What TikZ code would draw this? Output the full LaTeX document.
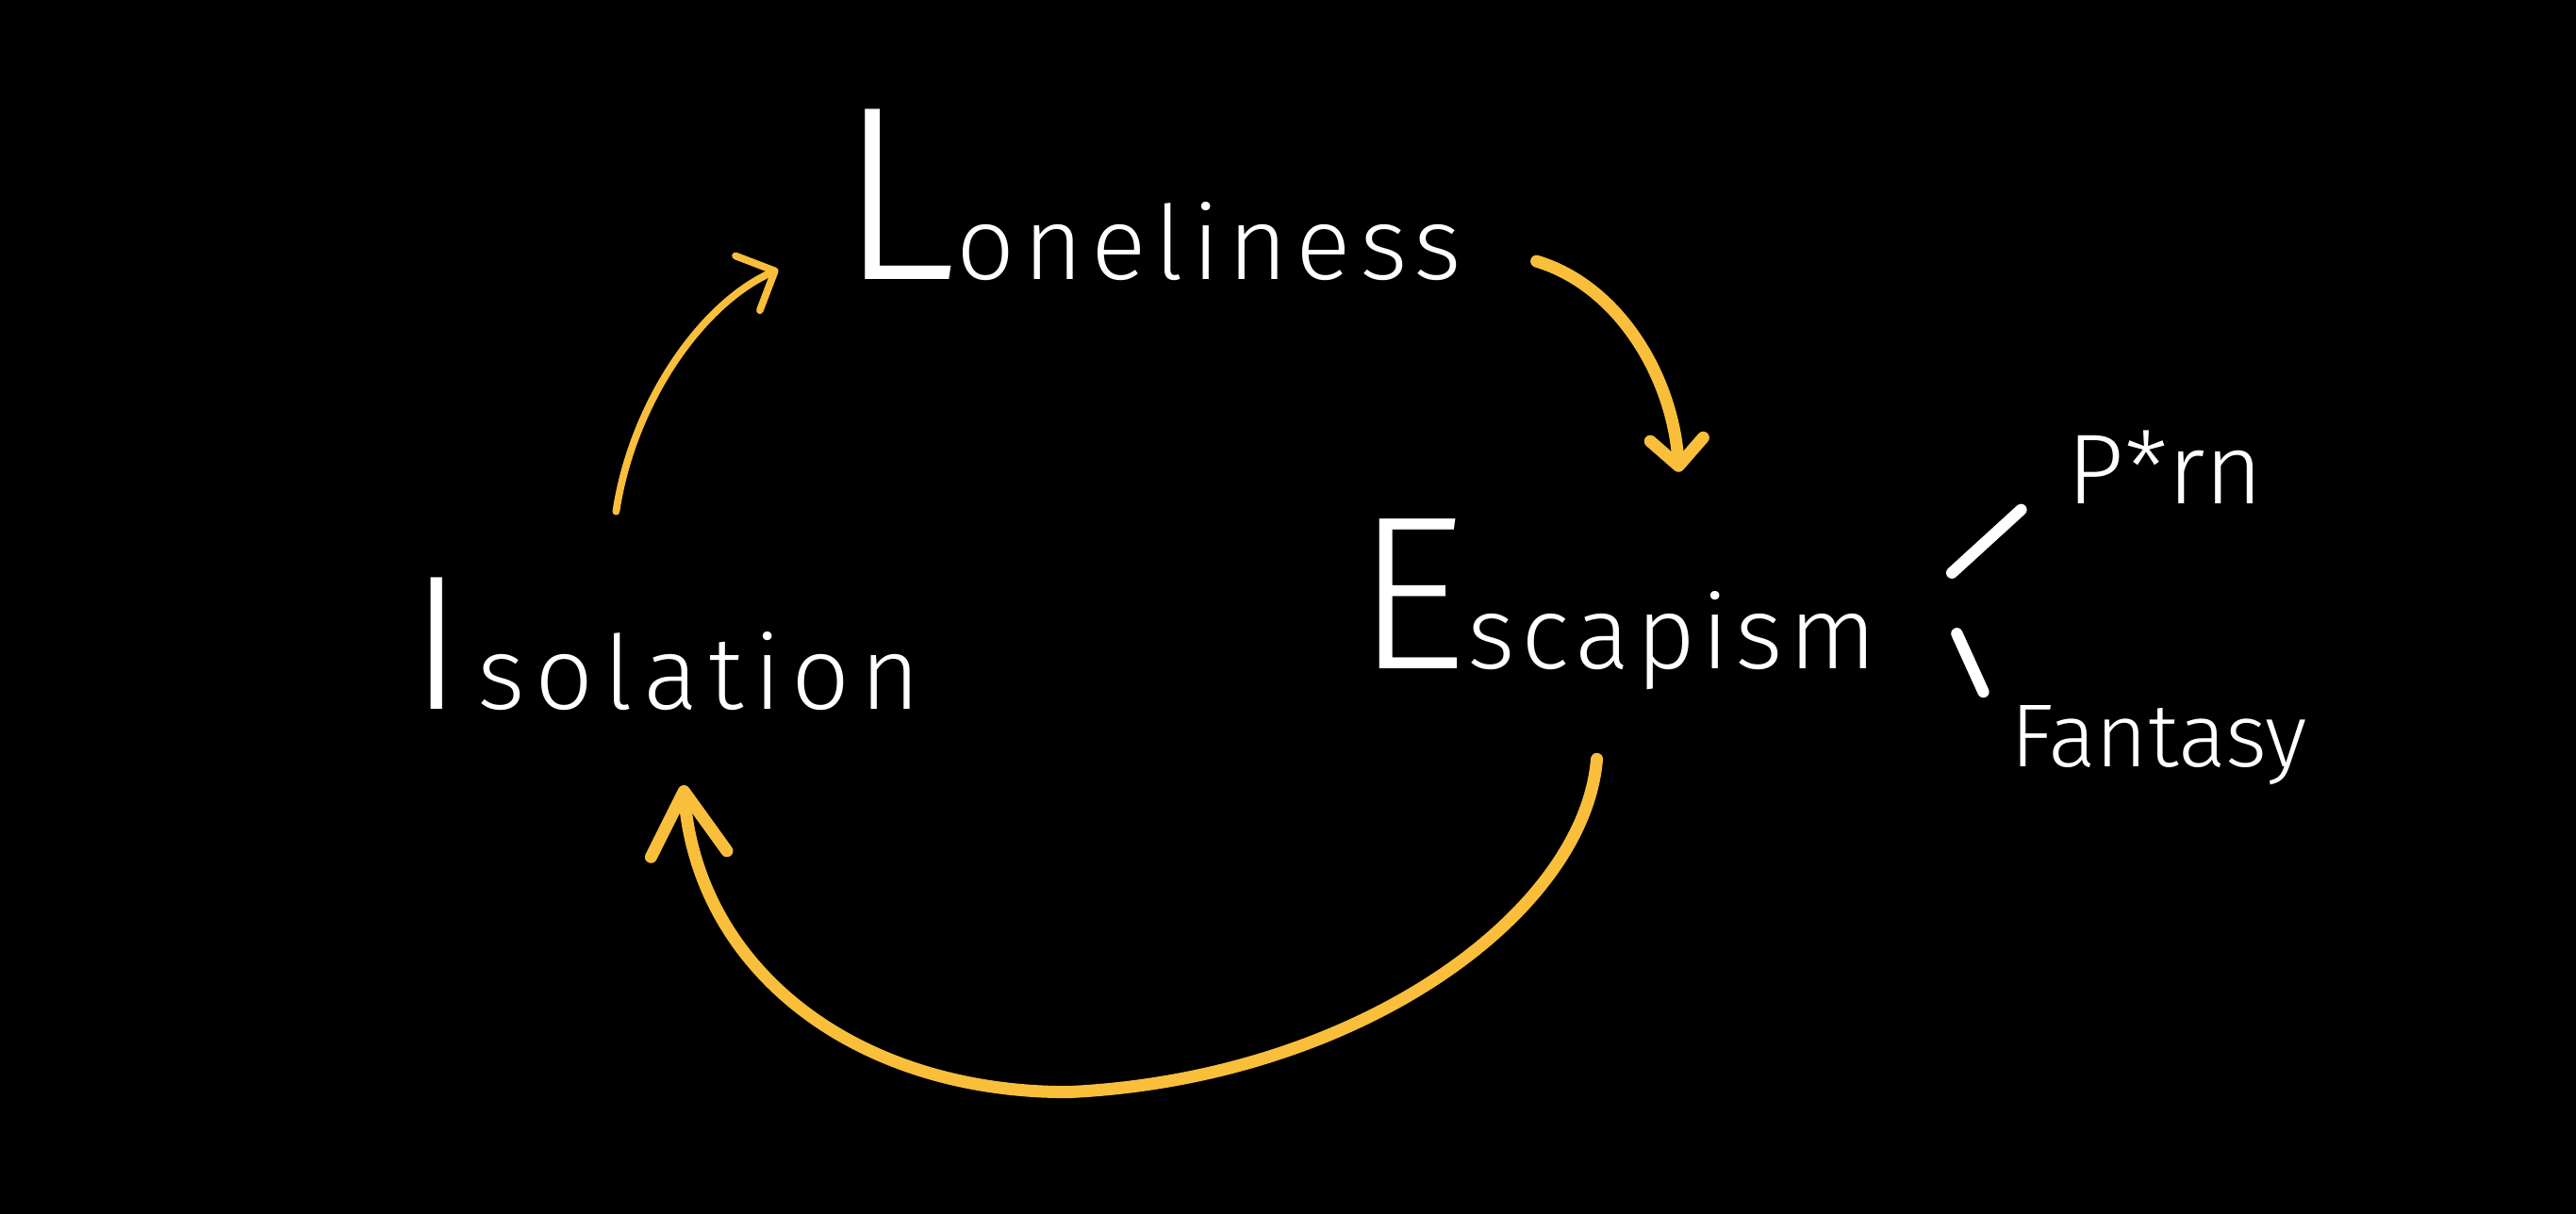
\documentclass[tikz,border=0pt]{standalone}
\usepackage{fontspec}
\setmainfont{Fira Sans}[UprightFont=* Light]
\usetikzlibrary{arrows.meta}
\definecolor{handyellow}{HTML}{F9BF3B}

\begin{document}
\begin{tikzpicture}[x=0.017423cm, y=0.017423cm,
    word/.style={text=white, inner sep=0pt, anchor=base, font=\fontsize{31}{31}\selectfont},
    side/.style={text=white, inner sep=0pt, anchor=base},
    flow/.style={handyellow, line width=3.7pt, line cap=round, line join=round},
    branch/.style={white, line width=3.5pt, line cap=round}
]
\fill[black] (0,0) rectangle (1568,739);
\useasboundingbox (0,0) rectangle (1568,739);

\node[word, font=\fontsize{31}{31}\selectfont\addfontfeatures{LetterSpace=8}] (lone) at (700,569)
    {{\fontsize{75}{75}\selectfont L}oneliness};
\node[word, font=\fontsize{31}{31}\selectfont\addfontfeatures{LetterSpace=10}] (iso) at (405,307)
    {{\fontsize{58}{58}\selectfont I}\kern4pt solation};
\node[word, font=\fontsize{31}{31}\selectfont\addfontfeatures{LetterSpace=6}] (esc) at (984,332)
    {{\fontsize{66}{66}\selectfont E}scapism};
\node[side, font=\fontsize{30}{30}\selectfont] (porn) at (1318,432) {P*rn};
\node[side, font=\fontsize{27}{27}\selectfont] (fant) at (1314,272) {Fantasy};

% the loop
\draw[flow, line width=2.2pt, -{Straight Barb[round, length=9pt, width=18pt]}]
    ([shift={(-30,40)}]iso.north) .. controls +(10,66) and +(-47,-21) .. ([shift={(-36,7)}]lone.south west);
\draw[flow, -{Straight Barb[round, length=8pt, width=16pt]}]
    ([shift={(45,12)}]lone.south east) .. controls +(50,-15) and +(-4,58) .. ([shift={(38,28)}]esc.north);
\coordinate (low) at (650,74);
\draw[flow, -{Straight Barb[round, length=19pt, width=23pt]}]
    ([shift={(-12,-42)}]esc.south) .. controls +(-8,-95) and +(175,8) .. (low)
    .. controls +(-130,0) and +(9,-112) .. ([shift={(11,-45)}]iso.south);

% branches
\draw[branch] ([shift={(45,19)}]esc.east) -- ([shift={(-28,-3)}]porn.south west);
\draw[branch] ([shift={(48,-18)}]esc.east) -- ([shift={(-16,8)}]fant.north west);
\end{tikzpicture}
\end{document}
